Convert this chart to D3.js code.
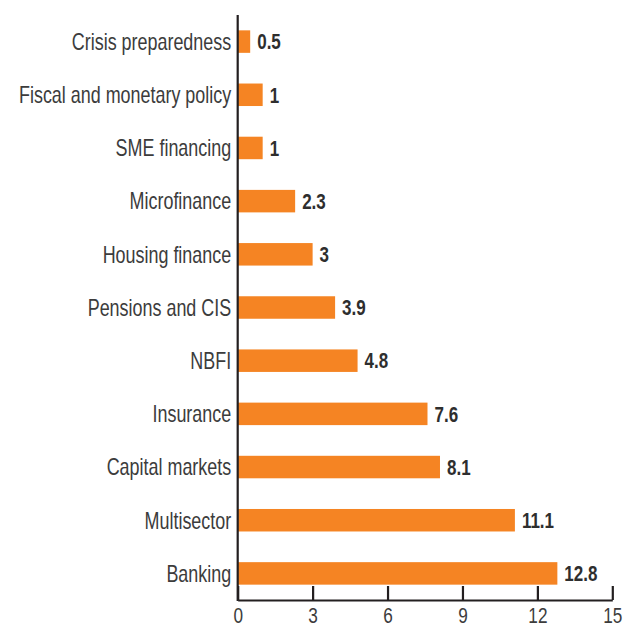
<!DOCTYPE html>
<html>
<head>
<meta charset="utf-8">
<script src="https://cdn.jsdelivr.net/npm/d3@7"></script>
<style>
  html, body { margin: 0; padding: 0; background: #ffffff; }
  svg { display: block; }
  .cat { font-family: "Liberation Sans", Arial, sans-serif; font-size: 23px; fill: #3c3c3c; }
  .val { font-family: "Liberation Sans", Arial, sans-serif; font-size: 21.5px; font-weight: bold; fill: #2e2e2e; }
  .tick text { font-family: "Liberation Sans", Arial, sans-serif; font-size: 21.5px; fill: #3c3c3c; }
</style>
</head>
<body>
<svg id="chart" width="625" height="628"></svg>
<script>
// Sectors, top to bottom
const categories = [
  "Crisis preparedness",
  "Fiscal and monetary policy",
  "SME financing",
  "Microfinance",
  "Housing finance",
  "Pensions and CIS",
  "NBFI",
  "Insurance",
  "Capital markets",
  "Multisector",
  "Banking"
];
const values = [0.5, 1, 1, 2.3, 3, 3.9, 4.8, 7.6, 8.1, 11.1, 12.8];
const valueLabels = ["0.5", "1", "1", "2.3", "3", "3.9", "4.8", "7.6", "8.1", "11.1", "12.8"];
const xTicks = [0, 3, 6, 9, 12, 15];

const svg = d3.select("#chart");
const plotLeft = 237.7, plotRight = 612.3, plotTop = 15, plotBottom = 600;
// horizontal squeeze that gives the labels a condensed look
const catSqueeze = 0.78, valSqueeze = 0.79, tickSqueeze = 0.8;

const x = d3.scaleLinear().domain([0, 15]).range([plotLeft, plotRight]);
const y = d3.scaleBand().domain(categories).range([plotTop, plotBottom])
  .paddingInner(0.577).paddingOuter(0.2885);
const yMid = c => y(c) + y.bandwidth() / 2;

// bars
svg.append("g").selectAll("rect")
  .data(values)
  .join("rect")
  .attr("x", x(0))
  .attr("y", (d, i) => y(categories[i]))
  .attr("width", d => x(d) - x(0))
  .attr("height", y.bandwidth())
  .attr("fill", "#f58423");

// value labels
svg.append("g").selectAll("text")
  .data(values)
  .join("text")
  .attr("class", "val")
  .attr("transform", (d, i) => `translate(${x(d) + 7},${yMid(categories[i])}) scale(${valSqueeze},1)`)
  .attr("dy", "0.36em")
  .text((d, i) => valueLabels[i]);

// category labels
svg.append("g").selectAll("text")
  .data(categories)
  .join("text")
  .attr("class", "cat")
  .attr("transform", d => `translate(${plotLeft - 6.5},${yMid(d)}) scale(${catSqueeze},1)`)
  .attr("dy", "0.36em")
  .attr("text-anchor", "end")
  .text(d => d);

// x axis with ticks pointing up into the plot
const xAxis = svg.append("g")
  .attr("transform", `translate(0,${plotBottom})`)
  .call(d3.axisBottom(x).tickValues(xTicks).tickSizeInner(-14).tickSizeOuter(0));
xAxis.select(".domain").attr("stroke", "#231f20").attr("stroke-width", 2.2);
xAxis.selectAll(".tick line").attr("stroke", "#231f20").attr("stroke-width", 2.2);
xAxis.selectAll(".tick text")
  .attr("fill", "#3c3c3c")
  .attr("y", 23.3)
  .attr("dy", 0)
  .attr("transform", `scale(${tickSqueeze},1)`);

// vertical axis line
svg.append("line")
  .attr("x1", plotLeft).attr("x2", plotLeft)
  .attr("y1", plotTop).attr("y2", plotBottom + 1.1)
  .attr("stroke", "#231f20").attr("stroke-width", 2.2);
</script>
</body>
</html>
